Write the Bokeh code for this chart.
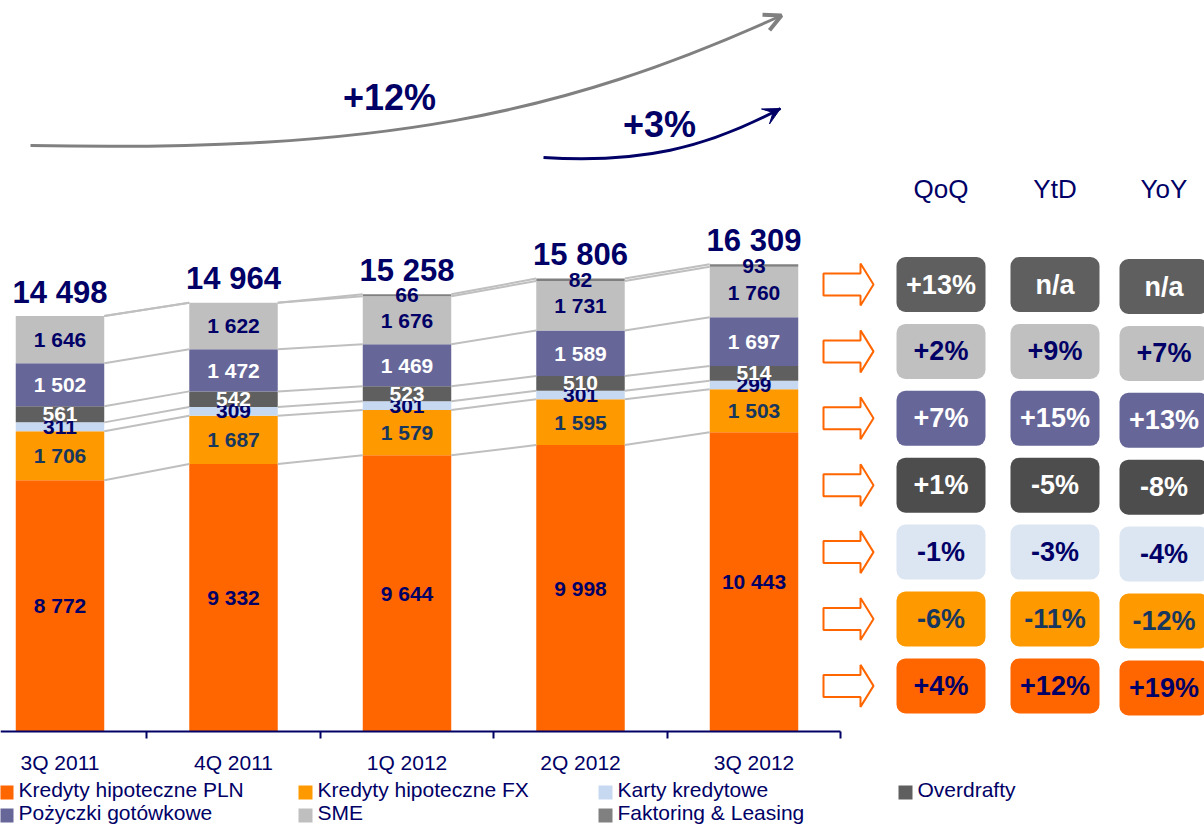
import numpy as np
from bokeh.plotting import figure
from bokeh.models import (ColumnDataSource, Range1d, FixedTicker, LinearAxis,
                          Arrow, OpenHead, VeeHead)
from bokeh.core.properties import value
from bokeh.embed import file_html
from bokeh.resources import INLINE

# ---------------- data ----------------
quarters = ["3Q 2011", "4Q 2011", "1Q 2012", "2Q 2012", "3Q 2012"]
series_names = ["Kredyty hipoteczne PLN", "Kredyty hipoteczne FX", "Karty kredytowe",
                "Overdrafty", "Pożyczki gotówkowe", "SME", "Faktoring & Leasing"]
pln = [8772, 9332, 9644, 9998, 10443]
fx = [1706, 1687, 1579, 1595, 1503]
karty = [311, 309, 301, 301, 299]
overdrafty = [561, 542, 523, 510, 514]
pozyczki = [1502, 1472, 1469, 1589, 1697]
sme = [1646, 1622, 1676, 1731, 1760]
faktoring = [0, 0, 66, 82, 93]

table_headers = ["QoQ", "YtD", "YoY"]
# rows top to bottom: Faktoring, SME, Pożyczki, Overdrafty, Karty, FX, PLN
qoq = ["+13%", "+2%", "+7%", "+1%", "-1%", "-6%", "+4%"]
ytd = ["n/a", "+9%", "+15%", "-5%", "-3%", "-11%", "+12%"]
yoy = ["n/a", "+7%", "+13%", "-8%", "-4%", "-12%", "+19%"]
growth_labels = ["+12%", "+3%"]

# ---------------- styles ----------------
NAVY = "#000066"
DKBLUE = "#17375E"
GRAY = "#808080"
FONT = value("Liberation Sans")
series_colors = ["#FF6600", "#FF9900", "#C6D9F1", "#5F5F5F", "#666699", "#BFBFBF", "#808080"]
label_colors = [NAVY, DKBLUE, NAVY, "white", "white", NAVY, NAVY]
box_fill = ["#5F5F5F", "#C0C0C0", "#666699", "#4D4D4D", "#DCE6F2", "#FF9900", "#FF6600"]
box_text = ["white", NAVY, "white", "white", NAVY, DKBLUE, NAVY]

series_values = [pln, fx, karty, overdrafty, pozyczki, sme, faktoring]
xs = list(range(len(quarters)))

W, H = 1204, 826
UPP = 34.9            # value units per pixel
AXIS_PX = 731         # pixel row of the value 0
CAT0, CATW = 59.5, 173.5

p = figure(width=W, height=H,
           x_range=Range1d(-CAT0 / CATW, (W - CAT0) / CATW),
           y_range=Range1d(-(H - AXIS_PX) * UPP, AXIS_PX * UPP),
           output_backend="svg", toolbar_location=None,
           x_axis_location=None, y_axis_location=None,
           min_border=0, outline_line_color=None)
p.min_border_left = 0
p.min_border_right = 0
p.min_border_top = 0
p.min_border_bottom = 0
p.xgrid.visible = False
p.ygrid.visible = False
p.extra_x_ranges = {"px": Range1d(0, W)}
p.extra_y_ranges = {"py": Range1d(H, 0)}

# ---------------- bars ----------------
keys = [f"s{k}" for k in range(len(series_values))]
data = {"x": xs}
for k, vals in zip(keys, series_values):
    data[k] = vals
src = ColumnDataSource(data)
BW = 0.51
bars = p.vbar_stack(keys, x="x", width=BW, source=src, fill_color=series_colors, line_color=None)

# connector lines between neighbouring bars
cum = np.cumsum(np.array(series_values, dtype=float), axis=0)
cx0, cy0, cx1, cy1 = [], [], [], []
for i in range(len(xs) - 1):
    for k in range(cum.shape[0]):
        cx0.append(xs[i] + BW / 2)
        cy0.append(cum[k][i])
        cx1.append(xs[i + 1] - BW / 2)
        cy1.append(cum[k][i + 1])
p.segment(cx0, cy0, cx1, cy1, line_color="#BFBFBF", line_width=2)

# segment labels
lx, ly, lt, lc = [], [], [], []
for k, vals in enumerate(series_values):
    for i, v in enumerate(vals):
        if v <= 0:
            continue
        bottom = cum[k][i] - v
        lx.append(xs[i])
        ly.append(bottom + v / 2)
        lt.append(f"{v:,}".replace(",", " "))
        lc.append(label_colors[k])
p.text(x=lx, y=ly, text=lt, text_color=lc, text_font=FONT, text_font_style="bold",
       text_font_size="21px", text_align="center", text_baseline="middle")

# totals
totals = cum[-1]
p.text(x=xs, y=[t + 24 * UPP for t in totals],
       text=[f"{int(t):,}".replace(",", " ") for t in totals],
       text_color=NAVY, text_font=FONT, text_font_style="bold", text_font_size="31px",
       text_align="center", text_baseline="alphabetic")

# ---------------- category axis ----------------
ax = LinearAxis(fixed_location=0,
                ticker=FixedTicker(ticks=xs, minor_ticks=[x + 0.5 for x in xs]),
                major_label_overrides={x: "" for x in xs},
                major_label_text_font_size="1px", major_label_standoff=0,
                major_tick_line_color=None, major_tick_out=0, major_tick_in=0,
                minor_tick_line_color=NAVY, minor_tick_line_width=2,
                minor_tick_out=7, minor_tick_in=0,
                axis_line_color=NAVY, axis_line_width=2, bounds=(-0.4, 4.5))
p.add_layout(ax, "below")
p.text(x=xs, y=[-31 * UPP] * len(xs), text=quarters, text_color=NAVY, text_font=FONT,
       text_font_size="21px", text_align="center", text_baseline="middle")

# ---------------- legend ----------------
leg_col_x = [0, 299, 599, 899]
leg_row_y = [792, 815]
sq_x, sq_y, lg_x, lg_y = [], [], [], []
for n in range(len(series_names)):
    r, c = divmod(n, 4)
    sq_x.append(leg_col_x[c] + 6); sq_y.append(leg_row_y[r])
    lg_x.append(leg_col_x[c] + 18); lg_y.append(leg_row_y[r] - 3)
p.scatter(x=sq_x, y=sq_y, marker="square", size=14, fill_color=series_colors,
          line_color=None, x_range_name="px", y_range_name="py")
p.text(x=lg_x, y=lg_y, text=series_names, text_color=NAVY, text_font=FONT,
       text_font_size="21px", text_align="left", text_baseline="middle",
       x_range_name="px", y_range_name="py")

# ---------------- growth arrows (top) ----------------
p.bezier(x0=[30], y0=[145], x1=[781], y1=[15], cx0=[380], cy0=[152], cx1=[560], cy1=[115],
         line_color=GRAY, line_width=3, x_range_name="px", y_range_name="py")
d = np.array([781 - 560, 15 - 115], dtype=float); d /= np.linalg.norm(d)
p.add_layout(Arrow(end=OpenHead(size=17, line_color=GRAY, line_width=4),
                   x_start=781 - 6 * d[0], y_start=15 - 6 * d[1], x_end=781, y_end=15,
                   line_color=GRAY, line_width=3, x_range_name="px", y_range_name="py"))
p.bezier(x0=[543], y0=[157], x1=[780], y1=[108], cx0=[640], cy0=[163], cx1=[705], cy1=[148],
         line_color=NAVY, line_width=3, x_range_name="px", y_range_name="py")
d2 = np.array([780 - 705, 108 - 148], dtype=float); d2 /= np.linalg.norm(d2)
p.add_layout(Arrow(end=VeeHead(size=17, fill_color=NAVY, line_color=NAVY),
                   x_start=780 - 6 * d2[0], y_start=108 - 6 * d2[1], x_end=780, y_end=108,
                   line_color=NAVY, line_width=3, x_range_name="px", y_range_name="py"))
p.text(x=[389, 659], y=[97, 124], text=growth_labels, text_color=NAVY, text_font=FONT,
       text_font_style="bold", text_font_size="36px", text_align="center",
       text_baseline="middle", x_range_name="px", y_range_name="py")

# ---------------- table on the right ----------------
col_x = [940.5, 1054.5, 1163.5]
row_y = [284 + 66.9 * r for r in range(len(qoq))]
BWID, BHT = 89, 55
p.text(x=col_x, y=[188] * 3, text=table_headers, text_color=NAVY, text_font=FONT,
       text_font_size="26px", text_align="center", text_baseline="middle",
       x_range_name="px", y_range_name="py")

bl, br, bt, bb, bf, tx, ty, tt, tc = [], [], [], [], [], [], [], [], []
for r in range(len(qoq)):
    for c, col in enumerate([qoq, ytd, yoy]):
        cx, cy = col_x[c], row_y[r] + (2 if c == 2 else 0)
        bl.append(cx - BWID / 2); br.append(cx + BWID / 2)
        bt.append(cy - BHT / 2); bb.append(cy + BHT / 2)
        bf.append(box_fill[r])
        tx.append(cx); ty.append(cy); tt.append(col[r]); tc.append(box_text[r])
p.quad(left=bl, right=br, top=bt, bottom=bb, fill_color=bf, line_color=None,
       border_radius=9, x_range_name="px", y_range_name="py")
p.text(x=tx, y=ty, text=tt, text_color=tc, text_font=FONT, text_font_style="bold",
       text_font_size="27px", text_align="center", text_baseline="middle",
       x_range_name="px", y_range_name="py")

# orange outline arrows
ax_xs, ax_ys = [], []
for cy in row_y:
    ax_xs.append([823, 860, 860, 873, 860, 860, 823])
    ax_ys.append([cy - 11, cy - 11, cy - 21, cy, cy + 21, cy + 11, cy + 11])
p.patches(ax_xs, ax_ys, fill_color="white", line_color="#FF6600", line_width=2,
          x_range_name="px", y_range_name="py")

open("out.html", "w").write(file_html(p, INLINE))
